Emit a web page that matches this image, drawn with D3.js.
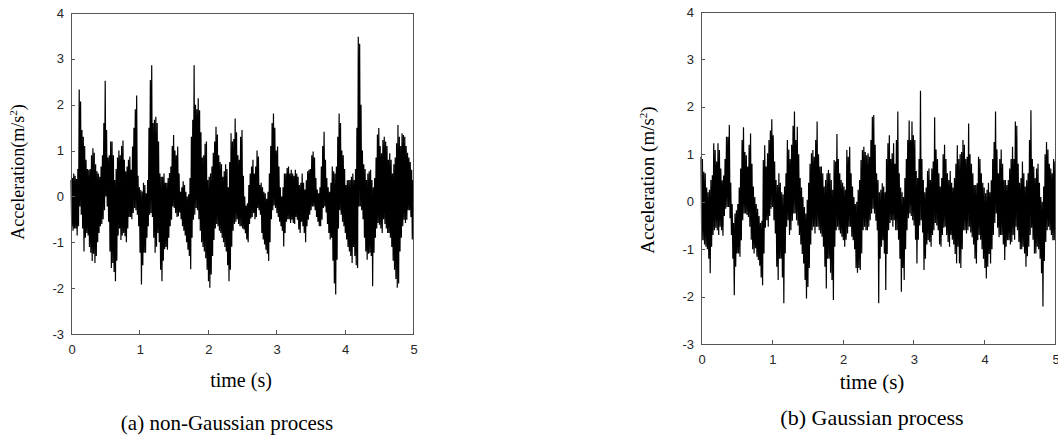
<!DOCTYPE html>
<html>
<head>
<meta charset="utf-8">
<script src="https://cdn.jsdelivr.net/npm/d3@7"></script>
<style>
  html, body { margin: 0; padding: 0; background: #fff; }
  svg { display: block; }
</style>
</head>
<body>
<svg id="chart" width="1058" height="437"></svg>
<script>
// ---- data ----
const sampleStep = 0.01; // s
const xTicks = [0, 1, 2, 3, 4, 5];
const yTicks = [-3, -2, -1, 0, 1, 2, 3, 4];
const xTickLabels = ["0", "1", "2", "3", "4", "5"];
const yTickLabels = ["-3", "-2", "-1", "0", "1", "2", "3", "4"];

// (a) non-Gaussian acceleration record, m/s^2, one sample every 0.01 s
const nonGaussian = [
  0.36,-0.65,0.4,-0.75,0.5,-0.7,0.45,-0.7,0.38,-0.85,0.6,-0.65,2.33,-0.22,2.07,-0.4,1.45,-0.7,1.3,-1.2,
  1.1,-0.9,0.8,-0.8,0.6,-0.85,0.58,-1.1,0.6,-1.23,0.9,-1.41,1.05,-1.25,0.95,-1.45,0.7,-1.3,0.55,-1.0,
  0.5,-0.8,0.43,-0.65,0.65,-0.6,0.9,-0.5,1.6,-0.3,2.52,0.0,1.45,-0.22,0.85,-0.55,0.9,-1.2,1.2,-1.56,
  1.2,-1.45,0.9,-1.65,0.36,-1.85,0.6,-1.4,0.85,-0.85,1.0,-0.7,0.9,-0.95,1.1,-0.85,1.22,-0.8,0.8,-0.87,
  0.55,-1.0,0.65,-0.7,0.8,-0.45,0.87,-0.45,0.58,-0.5,1.09,-0.36,1.5,-0.25,1.9,-0.3,2.2,-0.4,0.45,-0.65,
  0.2,-1.23,0.14,-1.92,0.11,-1.5,0.3,-1.23,0.25,-1.23,0.07,-0.9,0.36,-0.65,1.5,-0.4,2.54,-0.36,2.86,-0.45,
  1.6,-0.9,1.67,-1.23,1.74,-1.1,1.6,-0.8,1.2,-1.0,0.5,-1.6,0.43,-1.85,0.43,-1.4,0.5,-1.15,0.3,-1.1,
  0.3,-1.16,0.4,-0.9,0.51,-0.65,0.65,-0.51,1.1,-0.22,1.34,-0.25,1.0,-0.36,0.9,-0.45,1.09,-0.43,0.5,-0.35,
  0.1,-0.5,0.2,-0.65,0.33,-0.75,0.25,-0.85,0.1,-1.0,0.0,-1.16,0.05,-1.3,0.4,-1.59,1.3,-0.9,1.67,-0.51,
  2.86,-0.4,2.0,-0.25,1.9,-0.3,2.14,-0.5,1.88,-0.75,1.4,-1.0,0.85,-1.1,0.9,-1.2,1.15,-1.35,1.2,-1.6,
  0.36,-1.85,0.43,-1.99,0.5,-1.7,0.65,-1.3,0.95,-0.95,1.2,-0.7,1.52,-0.6,1.35,-0.65,0.9,-0.75,0.75,-0.8,
  0.7,-0.9,0.43,-1.0,0.55,-1.1,0.7,-1.2,0.6,-1.5,0.2,-1.85,0.75,-1.6,1.38,-1.1,1.2,-0.75,1.25,-0.6,
  1.7,-0.55,1.4,-0.5,0.9,-0.6,0.8,-0.65,1.3,-0.65,1.45,-0.7,0.45,-0.72,0.0,-0.8,-0.2,-0.94,-0.15,-1.0,
  0.25,-0.6,0.5,-0.48,0.65,-0.45,0.8,-0.36,0.5,-0.5,0.65,-0.45,1.0,-0.25,0.87,-0.3,0.25,-0.4,0.3,-0.8,
  0.2,-0.94,0.1,-1.05,0.07,-1.16,-0.05,-1.25,0.1,-1.41,0.5,-1.0,1.1,-0.5,1.6,-0.3,1.81,-0.2,1.5,-0.25,
  1.0,-0.36,1.09,-0.45,0.65,-0.55,0.2,-0.65,0.0,-0.75,0.2,-1.09,0.5,-0.8,0.5,-0.55,0.62,-0.5,0.65,-0.5,
  0.5,-0.58,0.58,-0.51,0.5,-0.58,0.45,-0.6,0.58,-0.45,0.5,-0.51,0.43,-0.72,0.25,-0.8,0.3,-0.55,0.5,-0.65,
  0.3,-0.8,0.15,-1.0,0.35,-0.65,0.55,-0.51,0.58,-0.4,0.6,-0.3,0.9,-0.22,0.98,-0.22,0.85,-0.3,0.4,-0.45,
  0.15,-0.55,0.07,-0.65,0.2,-0.65,0.65,-0.51,1.1,-0.25,1.41,-0.22,0.8,-0.35,0.4,-0.6,0.2,-0.8,0.1,-0.94,
  0.3,-0.9,0.65,-1.4,0.55,-1.9,0.5,-2.14,0.65,-1.38,1.3,-0.7,1.81,-0.3,1.6,-0.4,1.0,-0.55,0.9,-0.65,
  0.6,-0.8,0.25,-0.94,0.35,-1.1,0.36,-1.2,0.36,-1.3,0.43,-1.45,0.5,-1.1,0.36,-1.3,0.6,-1.5,1.5,-1.56,
  3.48,-0.22,3.33,-0.22,2.0,-0.3,1.0,-0.5,0.7,-0.9,0.6,-1.2,0.36,-1.38,0.5,-1.25,0.55,-1.23,0.58,-1.3,
  0.36,-1.96,0.2,-1.23,0.4,-0.9,0.85,-0.7,1.35,-0.58,1.49,-0.62,1.1,-0.7,0.94,-0.8,1.23,-0.5,1.3,-0.6,
  1.2,-0.7,1.1,-0.8,0.8,-0.8,0.94,-0.9,0.8,-1.1,0.5,-1.4,0.7,-1.6,0.85,-1.8,1.16,-1.99,1.56,-1.9,
  1.3,-1.2,1.1,-0.9,1.38,-0.65,1.34,-0.51,1.3,-0.58,1.1,-0.51,0.95,-0.3,0.85,-0.3,0.75,-0.45,0.58,-0.94,
  0.36
];

// (b) Gaussian acceleration record, m/s^2, one sample every 0.01 s
const gaussian = [
  0.95,-0.81,0.9,-0.81,0.63,-0.9,0.6,-0.95,0.3,-1.0,0.2,-1.2,0.25,-1.51,0.46,-0.95,0.56,-0.7,1.23,-0.6,
  1.09,-0.55,0.85,-0.6,1.23,-0.7,1.09,-0.53,0.7,-0.6,0.45,-0.72,0.55,-0.3,0.9,-0.15,1.37,-0.11,1.37,-0.11,
  1.62,-0.35,0.4,-0.7,-0.05,-1.2,-0.45,-1.97,-0.25,-1.37,-0.18,-1.09,-0.05,-1.09,0.3,-1.16,0.7,-0.81,1.3,-0.39,
  1.57,-0.25,1.05,-0.25,0.98,-0.28,0.74,-0.32,1.2,-0.53,1.44,-0.8,0.8,-1.0,0.32,-1.09,0.1,-0.98,-0.05,-1.16,
  -0.15,-1.23,-0.3,-1.35,-0.45,-1.6,-0.4,-1.76,0.88,-1.09,1.19,-0.55,0.74,-0.39,1.02,-0.53,1.3,-0.3,1.5,-0.15,
  1.74,-0.11,1.4,-0.39,0.85,-0.67,0.46,-1.37,0.35,-1.65,0.6,-1.2,0.4,-1.2,0.2,-1.6,0.15,-2.14,0.32,-1.09,
  0.6,-0.53,1.3,-0.39,1.1,-0.7,0.9,-0.6,1.2,-0.4,1.6,-0.25,1.9,-0.25,1.3,-0.39,1.58,-0.5,1.0,-0.7,
  0.5,-0.9,0.3,-1.1,0.1,-1.3,-0.11,-1.65,-0.25,-2.04,0.04,-1.8,0.4,-1.4,0.8,-0.9,1.02,-0.6,1.09,-0.53,
  0.95,-0.67,1.3,-0.53,1.69,-0.53,1.0,-0.6,0.74,-0.67,0.74,-0.74,0.6,-0.95,0.32,-1.37,0.46,-1.83,0.6,-1.2,
  0.67,-1.2,0.6,-1.5,0.46,-1.65,0.25,-2.07,0.88,-0.95,0.85,-0.6,1.43,-0.53,0.9,-0.6,0.6,-0.67,0.46,-0.74,
  0.4,-0.81,0.32,-0.95,0.25,-0.8,1.09,-0.67,0.95,-0.53,1.16,-0.53,0.6,-0.74,0.32,-0.81,0.1,-1.0,-0.05,-1.4,
  0.0,-1.5,0.25,-1.4,0.46,-1.44,0.88,-1.09,1.09,-0.6,1.16,-0.53,1.05,-0.6,0.98,-0.6,1.02,-0.53,0.95,-0.39,
  1.3,-0.25,1.79,-0.15,1.83,-0.25,1.2,-0.4,0.6,-0.6,0.46,-2.14,0.2,-1.2,0.25,-0.95,0.39,-0.81,0.32,-1.09,
  0.2,-1.86,0.9,-1.1,1.23,-0.6,1.4,-0.45,0.9,-0.39,1.02,-0.53,1.23,-0.39,0.8,-0.6,1.3,-0.6,1.9,-0.8,
  0.6,-1.2,0.3,-1.9,0.2,-1.4,0.1,-1.65,0.5,-1.0,0.9,-0.6,1.3,-0.35,1.71,-0.25,1.3,-0.3,1.69,-0.39,
  1.4,-0.5,1.3,-0.8,0.65,-1.3,0.5,-0.8,0.9,-0.5,2.34,-0.39,0.9,-0.65,0.46,-1.44,0.2,-1.2,0.3,-0.9,
  0.65,-0.81,0.7,-0.85,0.46,-0.95,0.7,-0.7,0.85,-0.6,1.78,-0.45,1.1,-0.5,0.9,-0.6,0.6,-0.9,0.32,-0.95,
  0.5,-0.7,1.0,-0.55,1.2,-0.53,0.9,-0.7,0.6,-0.85,0.46,-0.95,0.65,-0.7,0.4,-0.8,0.3,-0.9,0.5,-1.1,
  0.8,-1.3,1.19,-0.95,0.9,-1.3,1.0,-1.4,1.05,-1.0,1.3,-0.6,1.2,-0.6,0.9,-0.67,0.95,-0.6,1.65,-0.53,
  1.0,-0.65,0.8,-0.75,0.6,-0.9,0.35,-1.2,0.35,-1.3,0.39,-0.81,0.95,-0.7,0.9,-0.8,0.6,-1.0,0.4,-1.2,
  0.3,-1.4,0.18,-1.62,0.25,-1.37,0.4,-1.1,0.2,-1.3,0.45,-1.0,0.9,-0.7,1.26,-0.45,1.9,-0.25,1.1,-0.55,
  0.6,-0.75,0.9,-0.7,1.1,-0.7,0.8,-0.9,0.46,-1.23,0.46,-0.95,0.35,-0.81,0.46,-0.81,0.7,-0.9,0.9,-0.85,
  1.16,-0.7,0.9,-0.8,1.69,-0.53,1.6,-0.6,0.8,-0.85,0.4,-1.0,0.5,-1.0,0.85,-0.95,0.6,-1.09,0.32,-1.37,
  0.45,-1.15,0.6,-0.95,1.3,-0.7,1.93,-0.55,0.9,-0.8,0.74,-1.09,0.5,-1.09,0.7,-0.95,0.8,-1.0,0.4,-1.2,
  0.1,-1.51,0.0,-2.21,0.32,-1.25,1.0,-0.85,1.26,-0.6,1.1,-0.53,0.8,-0.6,0.7,-0.7,0.6,-0.81,0.9,-0.81,
  0.85
];

const panels = [
  { values: nonGaussian, ylabel: "Acceleration(m/s", xlabel: "time (s)", caption: "(a) non-Gaussian process",
    x0: 71, x1: 413, y0: 13, y1: 334, ylx: 24, yly: 172, xlx: 241, xly: 387, capx: 227, capy: 430,
    labelSize: 18, xlabelSize: 20, capSize: 21 },
  { values: gaussian, ylabel: "Acceleration (m/s", xlabel: "time (s)", caption: "(b) Gaussian process",
    x0: 701, x1: 1055, y0: 12, y1: 344, ylx: 654, yly: 180, xlx: 872, xly: 389, capx: 872, capy: 425,
    labelSize: 19, xlabelSize: 21, capSize: 22 }
];

const svg = d3.select("#chart");
const axisColor = "#555";
const tickFont = "'Liberation Sans', Arial, sans-serif";
const serif = "'Liberation Serif', 'Times New Roman', serif";

panels.forEach(p => {
  const x = d3.scaleLinear().domain([0, 5]).range([p.x0, p.x1]);
  const y = d3.scaleLinear().domain([-3, 4]).range([p.y1, p.y0]);
  const g = svg.append("g");

  // signal
  const line = d3.line()
    .x((d, i) => x(i * sampleStep))
    .y(d => y(d));
  g.append("path")
    .datum(p.values)
    .attr("d", line)
    .attr("fill", "none")
    .attr("stroke", "#000")
    .attr("stroke-width", 1.2)
    .attr("stroke-linejoin", "bevel");

  // frame
  g.append("rect")
    .attr("x", p.x0 + 0.5).attr("y", p.y0 + 0.5)
    .attr("width", p.x1 - p.x0).attr("height", p.y1 - p.y0)
    .attr("fill", "none").attr("stroke", axisColor).attr("stroke-width", 1);

  // y ticks
  yTicks.forEach((t, i) => {
    const yy = Math.round(y(t)) + 0.5;
    g.append("line").attr("x1", p.x0).attr("x2", p.x0 + 4)
      .attr("y1", yy).attr("y2", yy).attr("stroke", axisColor);
    g.append("text").attr("x", p.x0 - 7).attr("y", y(t)).attr("dy", "0.35em")
      .attr("text-anchor", "end").attr("font-family", tickFont).attr("font-size", 13)
      .attr("fill", "#262626").text(yTickLabels[i]);
  });
  // x ticks
  xTicks.forEach((t, i) => {
    const xx = Math.round(x(t)) + 0.5;
    g.append("line").attr("x1", xx).attr("x2", xx)
      .attr("y1", p.y1).attr("y2", p.y1 - 4).attr("stroke", axisColor);
    g.append("text").attr("x", x(t) + 1).attr("y", p.y1 + 20)
      .attr("text-anchor", "middle").attr("font-family", tickFont).attr("font-size", 13)
      .attr("fill", "#262626").text(xTickLabels[i]);
  });

  // y label
  const yl = g.append("text")
    .attr("transform", `translate(${p.ylx},${p.yly}) rotate(-90)`)
    .attr("text-anchor", "middle").attr("font-family", serif).attr("font-size", p.labelSize)
    .attr("fill", "#000");
  yl.append("tspan").text(p.ylabel);
  yl.append("tspan").attr("font-size", 11).attr("dy", -7).text("2");
  yl.append("tspan").attr("dy", 7).text(")");

  // x label
  g.append("text").attr("x", p.xlx).attr("y", p.xly)
    .attr("text-anchor", "middle").attr("font-family", serif).attr("font-size", p.xlabelSize)
    .attr("fill", "#000").text(p.xlabel);

  // caption
  g.append("text").attr("x", p.capx).attr("y", p.capy)
    .attr("text-anchor", "middle").attr("font-family", serif).attr("font-size", p.capSize)
    .attr("fill", "#000").text(p.caption);
});
</script>
</body>
</html>
